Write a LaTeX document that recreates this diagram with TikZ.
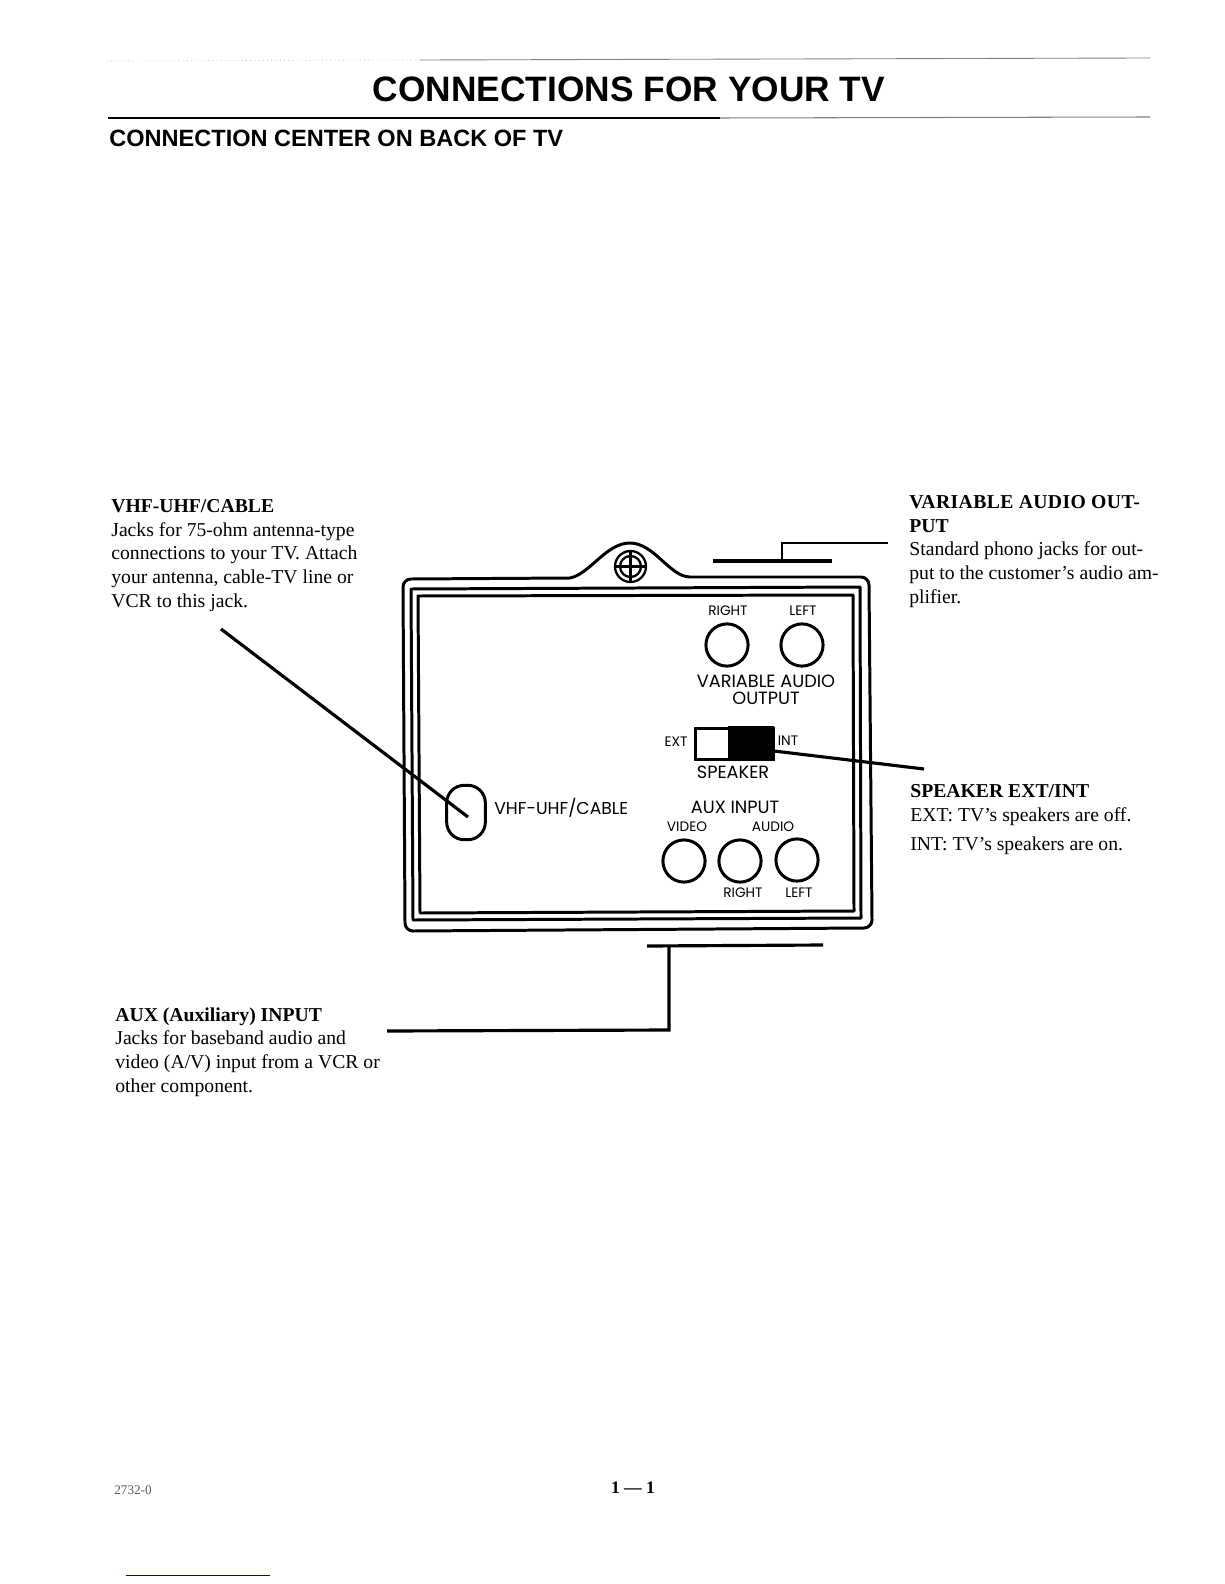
\documentclass[tikz,border=0pt]{standalone}
\usepackage{fontspec}
\setmainfont{Liberation Serif}
\newfontfamily\headfont{Liberation Sans}
\newfontfamily\panelfont{Poppins}
\newfontfamily\spacedfont[LetterSpace=2]{Liberation Serif Bold}
\usetikzlibrary{positioning,calc}

\tikzset{
	frameline/.style={line width=1.7pt, line join=round},
	leader/.style={line width=1.8pt},
	jack/.style={circle, draw, line width=1.7pt, minimum size=24pt, inner sep=0pt},
	blurb/.style={anchor=north west, align=left, inner sep=0pt, font=\fontsize{11.2}{13.55}\selectfont},
	paneltext/.style={inner sep=0pt, font=\panelfont\fontsize{10.1}{10}\selectfont},
	paneltiny/.style={inner sep=0pt, font=\panelfont\fontsize{7.8}{8}\selectfont}
}

\begin{document}
\begin{tikzpicture}[x=0.02cm, y=-0.02cm]
	\useasboundingbox (0,0) rectangle (1224,1584);

	% Page heading
	\draw[line width=0.4pt, gray!60, dotted] (107,61) -- (420,60);
	\draw[line width=0.5pt, gray] (420,60) -- (1150,58);
	\node[inner sep=0pt, font=\headfont\bfseries\fontsize{20.1}{21}\selectfont] (title) at (629,89) {CONNECTIONS FOR YOUR TV};
	\draw[line width=1.1pt] (108,118) -- (720,118);
	\draw[line width=0.6pt, gray] (720,118) -- (1150,117);
	\node[anchor=west, inner sep=0pt, font=\headfont\bfseries\fontsize{13.4}{14}\selectfont] (subtitle) at (109,138) {CONNECTION CENTER ON BACK OF TV};

	% Back panel
	\draw[frameline] (570,578) .. controls (590,574) and (606,543) .. (630,543) .. controls (654,543) and (670,577) .. (690,577)
		-- (861,577) arc (-90:0:8) -- (872,920) arc (0:90:8) -- (413,931) arc (90:180:8) -- (403,587) arc (180:270:8) -- cycle;
	\draw[frameline] (411,589) -- (860,587) -- (861,918) -- (413,920) -- cycle;
	\draw[frameline] (418,596) -- (853,595) -- (854,911) -- (420,913) -- cycle;

	% Screw
	\draw[line width=1.3pt] (630.5,566.5) circle (15.5);
	\draw[line width=1.3pt] (630.5,566.5) circle (10.5);
	\draw[line width=1.3pt] (615,566.5) -- (646,566.5);
	\draw[line width=1.3pt] (630.5,551) -- (630.5,582);

	% Variable audio
	\node[jack] (varright) at (727,645) {};
	\node[jack] (varleft) at (802,645) {};
	\node[paneltiny] (varrightlbl) at (728,611) {RIGHT};
	\node[paneltiny] (varleftlbl) at (803,611) {LEFT};
	\node[paneltext] (varlbl) at (766,681) {VARIABLE AUDIO};
	\node[paneltext] (varlblb) at (766,698) {OUTPUT};

	% Speaker switch
	\node[draw, line width=1.7pt, minimum width=44.5pt, minimum height=17.5pt, inner sep=0pt, anchor=north west] (spkswitch) at (694,727) {};
	\fill (728,726) rectangle (774,759);
	\node[paneltiny] (extlbl) at (676,742) {EXT};
	\node[paneltiny] (intlbl) at (788,741) {INT};
	\node[paneltext] (spklbl) at (733,772) {SPEAKER};

	% VHF jack
	\node[draw, line width=1.7pt, rounded corners=10pt, minimum width=22pt, minimum height=31pt, inner sep=0pt] (vhfjack) at (466,812.5) {};
	\node[paneltext, anchor=west, font=\panelfont\fontsize{9.8}{10}\selectfont] (vhflbl) at (494,808) {VHF-UHF/CABLE};

	% Aux input
	\node[paneltext] (auxlbl) at (735,807) {AUX INPUT};
	\node[paneltiny] (videolbl) at (687,827) {VIDEO};
	\node[paneltiny] (audiolbl) at (773,827) {AUDIO};
	\node[jack] (auxvideo) at (684,861) {};
	\node[jack] (auxright) at (740,861) {};
	\node[jack] (auxleft) at (797,860) {};
	\node[paneltiny] (auxrightlbl) at (743,893) {RIGHT};
	\node[paneltiny] (auxleftlbl) at (799,893) {LEFT};

	% Callout text
	\node[blurb] (vhftext) at (111,499) {\textbf{VHF-UHF/CABLE}\\Jacks for 75-ohm antenna-type\\connections to your TV. Attach\\your antenna, cable-TV line or\\VCR to this jack.};
	\node[blurb] (vartext) at (909,495) {{\spacedfont VARIABLE AUDIO OUT-}\\\textbf{PUT}\\Standard phono jacks for out-\\put to the customer's audio am-\\plifier.};
	\node[blurb] (spktext) at (910,784) {\textbf{SPEAKER EXT/INT}\\EXT: TV's speakers are off.};
	\node[blurb] (spktextb) at (910,836) {INT: TV's speakers are on.};
	\node[blurb] (auxtext) at (115,1007) {\textbf{AUX (Auxiliary) INPUT}\\Jacks for baseband audio and\\video (A/V) input from a VCR or\\other component.};

	% Leaders
	\coordinate (vhfstart) at (221,629);
	\coordinate (vhftip) at (468,817);
	\draw[leader] (vhfstart) -- (vhftip);

	\coordinate (varbarl) at (713,561);
	\coordinate (varbarr) at (832,561);
	\coordinate (varknee) at (782,561);
	\coordinate (vartop) at (782,543);
	\coordinate (varend) at (888,543);
	\draw[leader] (varbarl) -- (varbarr);
	\draw[line width=1.1pt] (varknee) -- (vartop) -- (varend);

	\coordinate (spkstart) at (774,751);
	\coordinate (spkend) at (924,769);
	\draw[leader] (spkstart) -- (spkend);

	\coordinate (auxbarl) at (647,946);
	\coordinate (auxbarr) at (823,945);
	\coordinate (auxknee) at (669,946);
	\coordinate (auxcorner) at (669,1030);
	\coordinate (auxend) at (387,1031);
	\draw[leader] (auxbarl) -- (auxbarr);
	\draw[leader] (auxknee) -- (auxcorner) -- (auxend);

	% Page foot
	\node[inner sep=0pt, font=\fontsize{7.5}{8}\selectfont, gray!70!black] (partno) at (133,1490) {2732-0};
	\node[inner sep=0pt, font=\bfseries\fontsize{10}{12}\selectfont] (pageno) at (633,1488) {1 --- 1};
	\coordinate (bluel) at (126,1575);
	\coordinate (bluer) at (270,1575);
	\draw[line width=0.5pt, blue!60!black] (bluel) -- (bluer);
\end{tikzpicture}
\end{document}
